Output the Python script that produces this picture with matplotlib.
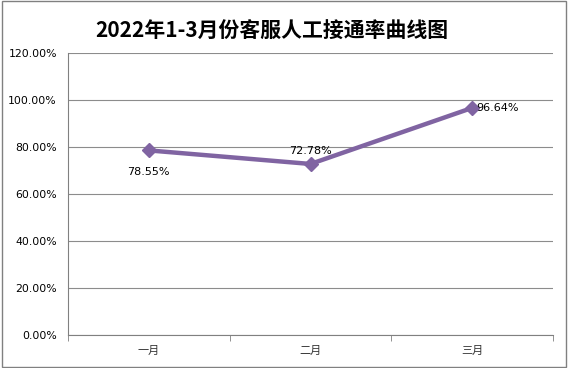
import matplotlib.pyplot as plt
import numpy as np

plt.rcParams['font.family'] = ['Noto Sans CJK SC', 'DejaVu Sans']

months = ['一月', '二月', '三月']
rates = [78.55, 72.78, 96.64]
labels = ['78.55%', '72.78%', '96.64%']
yticks = [0, 20, 40, 60, 80, 100, 120]

fig = plt.figure(figsize=(5.68, 3.68), dpi=100)
ax = fig.add_axes([68 / 568, 33 / 368, 485 / 568, 282 / 368])

x = np.arange(len(months))
ax.plot(x, rates, color='#8064A2', linewidth=3.2, marker='D', markersize=7, zorder=3)

# data labels: below, above, right
offsets = [(0, -12, 'center', 'top'), (0, 6, 'center', 'bottom'), (3, 0, 'left', 'center')]
for xi, yi, lab, (dx, dy, ha, va) in zip(x, rates, labels, offsets):
    ax.annotate(lab, (xi, yi), xytext=(dx, dy), textcoords='offset points',
                ha=ha, va=va, fontsize=8, color='#000000', family=['DejaVu Sans'])

ax.set_xlim(-0.5, 2.5)
ax.set_ylim(0, 120)
ax.set_yticks(yticks)
ax.set_yticklabels(['%.2f%%' % v for v in yticks], fontsize=7.8, family=['DejaVu Sans'])
ax.set_xticks(x)
ax.set_xticklabels(months, fontsize=8, color='#333333')
ax.set_xticks([-0.5, 0.5, 1.5, 2.5], minor=True)
ax.tick_params(axis='x', which='major', length=0, pad=8)
ax.tick_params(axis='x', which='minor', length=4, color='#808080')
ax.tick_params(axis='y', length=0, pad=8)

ax.grid(axis='y', color='#8c8c8c', linewidth=0.8)
ax.set_axisbelow(True)
for s in ['top', 'right']:
    ax.spines[s].set_visible(False)
ax.spines['left'].set_color('#808080')
ax.spines['bottom'].set_color('#808080')

fig.text(0.478, 0.915, '2022年1-3月份客服人工接通率曲线图', ha='center', va='center',
         fontsize=15, fontweight='bold')

fig.patches.append(plt.Rectangle((0.003, 0.004), 0.994, 0.992, transform=fig.transFigure,
                                 fill=False, edgecolor='#808080', linewidth=1))

fig.savefig('out.png', dpi=100)
